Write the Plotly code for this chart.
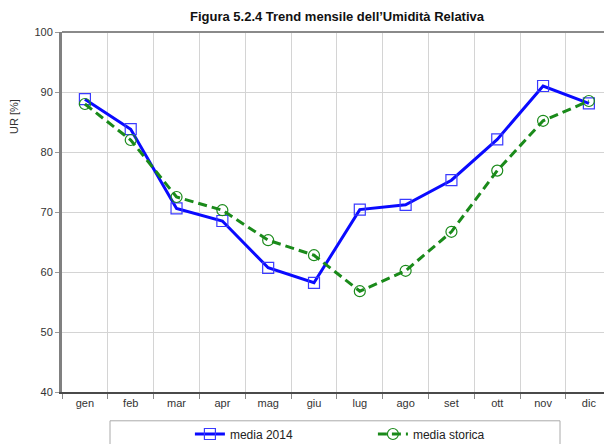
import plotly.graph_objects as go

mesi = ["gen", "feb", "mar", "apr", "mag", "giu", "lug", "ago", "set", "ott", "nov", "dic"]
media_2014 = [88.8, 83.8, 70.6, 68.5, 60.7, 58.2, 70.4, 71.2, 75.3, 82.1, 91.0, 88.1]
media_storica = [88.0, 82.0, 72.5, 70.3, 65.3, 62.8, 56.8, 60.2, 66.7, 76.9, 85.2, 88.5]

fig = go.Figure()

# serie 2014
fig.add_trace(go.Scatter(
    x=mesi, y=media_2014, name="media 2014", mode="lines+markers",
    line=dict(color="#0a0aff", width=3),
    marker=dict(symbol="square-open", size=11, color="#3a3aff", line=dict(width=1.2)),
))

# media storica
fig.add_trace(go.Scatter(
    x=mesi, y=media_storica, name="media storica", mode="lines+markers",
    line=dict(color="#1a8a1a", width=3, dash="9px,5px"),
    marker=dict(symbol="circle-open", size=11, color="#1a8a1a", line=dict(width=1.2)),
))

fig.update_layout(
    width=604, height=444,
    margin=dict(l=62, r=0, t=32, b=52),
    paper_bgcolor="white", plot_bgcolor="white",
    font=dict(family="Liberation Sans, Arial, sans-serif", size=11, color="#333333"),
    title=dict(text="<b>Figura 5.2.4 Trend mensile dell’Umidità Relativa</b>",
               x=(337 / 604), xanchor="center", y=0.962, yanchor="middle",
               font=dict(size=13, color="#111111")),
    showlegend=True,
    legend=dict(orientation="h", x=0.236, xanchor="left",
                yref="container", y=(444 - 434) / 444, yanchor="middle",
                bgcolor="rgba(0,0,0,0)", font=dict(size=12, color="#222222"),
                entrywidth=138, itemwidth=30),
)

fig.update_xaxes(
    type="category", range=[-0.5, 11.33],
    tickson="boundaries", ticks="outside", ticklen=5, tickcolor="#888888",
    showgrid=True, gridcolor="#d4d4d4", gridwidth=1,
    showline=True, linecolor="#4a4a4a", linewidth=2,
    tickfont=dict(size=11, color="#333333"),
)
fig.update_yaxes(
    range=[40, 100], dtick=10, ticks="outside", ticklen=4, tickcolor="#999999",
    showgrid=True, gridcolor="#d4d4d4", gridwidth=1,
    showline=True, linecolor="#808080", linewidth=3, zeroline=False,
    tickfont=dict(size=11, color="#333333"),
)

# bordo superiore
fig.add_shape(type="line", xref="paper", yref="paper", x0=0, x1=1, y0=1, y1=1,
              line=dict(color="#8a8a8a", width=2))

# titolo asse y
fig.add_annotation(text="UR [%]", textangle=-90, xref="paper", yref="paper",
                   x=(14 - 62) / 542, xanchor="center", y=0.764, yanchor="middle",
                   showarrow=False, font=dict(size=11, color="#333333"))

# riquadro legenda
fig.add_shape(type="rect", xref="paper", yref="paper",
              x0=(110 - 62) / 542, x1=(560 - 62) / 542, y0=-0.2, y1=-0.08,
              line=dict(color="#aaaaaa", width=1), fillcolor="rgba(0,0,0,0)")

fig.write_html("out.html", config={"displayModeBar": False},
               post_script="document.body.style.margin='0';")
